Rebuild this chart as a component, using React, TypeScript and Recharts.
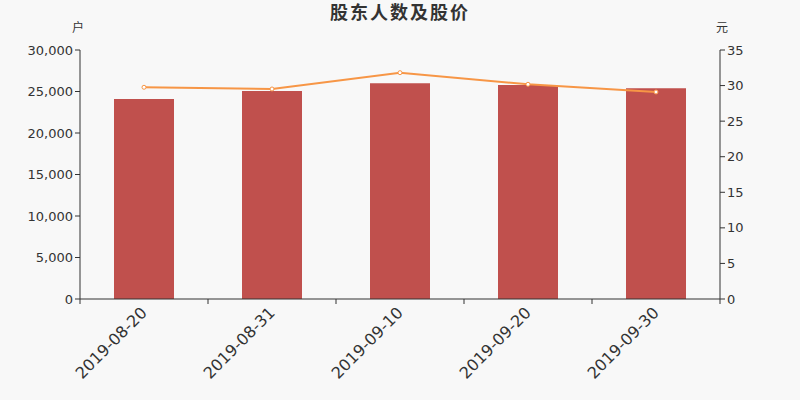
import React from 'react';
import { ComposedChart, Bar, Line, XAxis, YAxis } from 'recharts';

const dates = ['2019-08-20', '2019-08-31', '2019-09-10', '2019-09-20', '2019-09-30'];
const holders = [24100, 25060, 25990, 25780, 25390];
const prices = [29.76, 29.52, 31.81, 30.18, 29.1];
const leftTicks = [0, 5000, 10000, 15000, 20000, 25000, 30000];
const rightTicks = [0, 5, 10, 15, 20, 25, 30, 35];

const chartData = dates.map((date, i) => ({ date, holders: holders[i], price: prices[i] }));

const FONT = '"DejaVu Sans", "Noto Sans CJK SC", sans-serif';
const AXIS = '#333';
const PLOT_LEFT = 80;
const PLOT_WIDTH = 640;
const half = PLOT_WIDTH / dates.length / 2;

const DateTick = (props: any) => {
  const { x, y, payload, index } = props;
  return (
    <g>
      <line x1={x - half} y1={y - 8} x2={x - half} y2={y - 3} stroke={AXIS} />
      {index === dates.length - 1 && (
        <line x1={x + half} y1={y - 8} x2={x + half} y2={y - 3} stroke={AXIS} />
      )}
      <text
        x={x}
        y={y + 3}
        transform={`rotate(-45, ${x}, ${y + 3})`}
        textAnchor="end"
        dominantBaseline="central"
        fontSize={16}
        fill={AXIS}
        fontFamily={FONT}
      >
        {payload.value}
      </text>
    </g>
  );
};

const unitLabel = (text: string, side: 'left' | 'right') => (props: any) => {
  const { viewBox } = props;
  const x = side === 'left' ? viewBox.x + viewBox.width - 2 : viewBox.x + 2;
  return (
    <text x={x} y={32} textAnchor="middle" fontSize={12} fill={AXIS} fontFamily={FONT}>
      {text}
    </text>
  );
};

const App: React.FC = () => {
  return (
    <div style={{ position: 'absolute', left: 0, top: 0, width: 800, height: 400, background: '#f8f8f8' }}>
      <ComposedChart
        width={800}
        height={400}
        data={chartData}
        margin={{ top: 50, right: 20, left: 20, bottom: 0 }}
        style={{ fontFamily: FONT }}
      >
        <text
          x={400}
          y={19}
          textAnchor="middle"
          fontSize={18}
          fontWeight="bold"
          letterSpacing={2}
          fill={AXIS}
          fontFamily={FONT}
        >
          股东人数及股价
        </text>
        <XAxis
          dataKey="date"
          height={101}
          axisLine={{ stroke: AXIS }}
          tickLine={false}
          interval={0}
          tick={<DateTick />}
        />
        <YAxis
          yAxisId="left"
          width={PLOT_LEFT - 20}
          domain={[0, 30000]}
          ticks={leftTicks}
          tickFormatter={(v: number) => v.toLocaleString('en-US')}
          axisLine={{ stroke: AXIS }}
          tickLine={{ stroke: AXIS }}
          tickSize={5}
          tick={{ fontSize: 13, fill: AXIS, fontFamily: FONT }}
          label={{ content: unitLabel('户', 'left') }}
        />
        <YAxis
          yAxisId="right"
          orientation="right"
          width={60}
          domain={[0, 35]}
          ticks={rightTicks}
          axisLine={{ stroke: AXIS }}
          tickLine={{ stroke: AXIS }}
          tickSize={5}
          tick={{ fontSize: 13, fill: AXIS, fontFamily: FONT }}
          label={{ content: unitLabel('元', 'right') }}
        />
        <Bar yAxisId="left" dataKey="holders" fill="#c0504d" barSize={60} isAnimationActive={false} />
        <Line
          yAxisId="right"
          dataKey="price"
          stroke="#f79646"
          strokeWidth={2}
          dot={{ r: 2, fill: '#fff', stroke: '#f79646', strokeWidth: 1 }}
          isAnimationActive={false}
        />
      </ComposedChart>
    </div>
  );
};

export default App;
